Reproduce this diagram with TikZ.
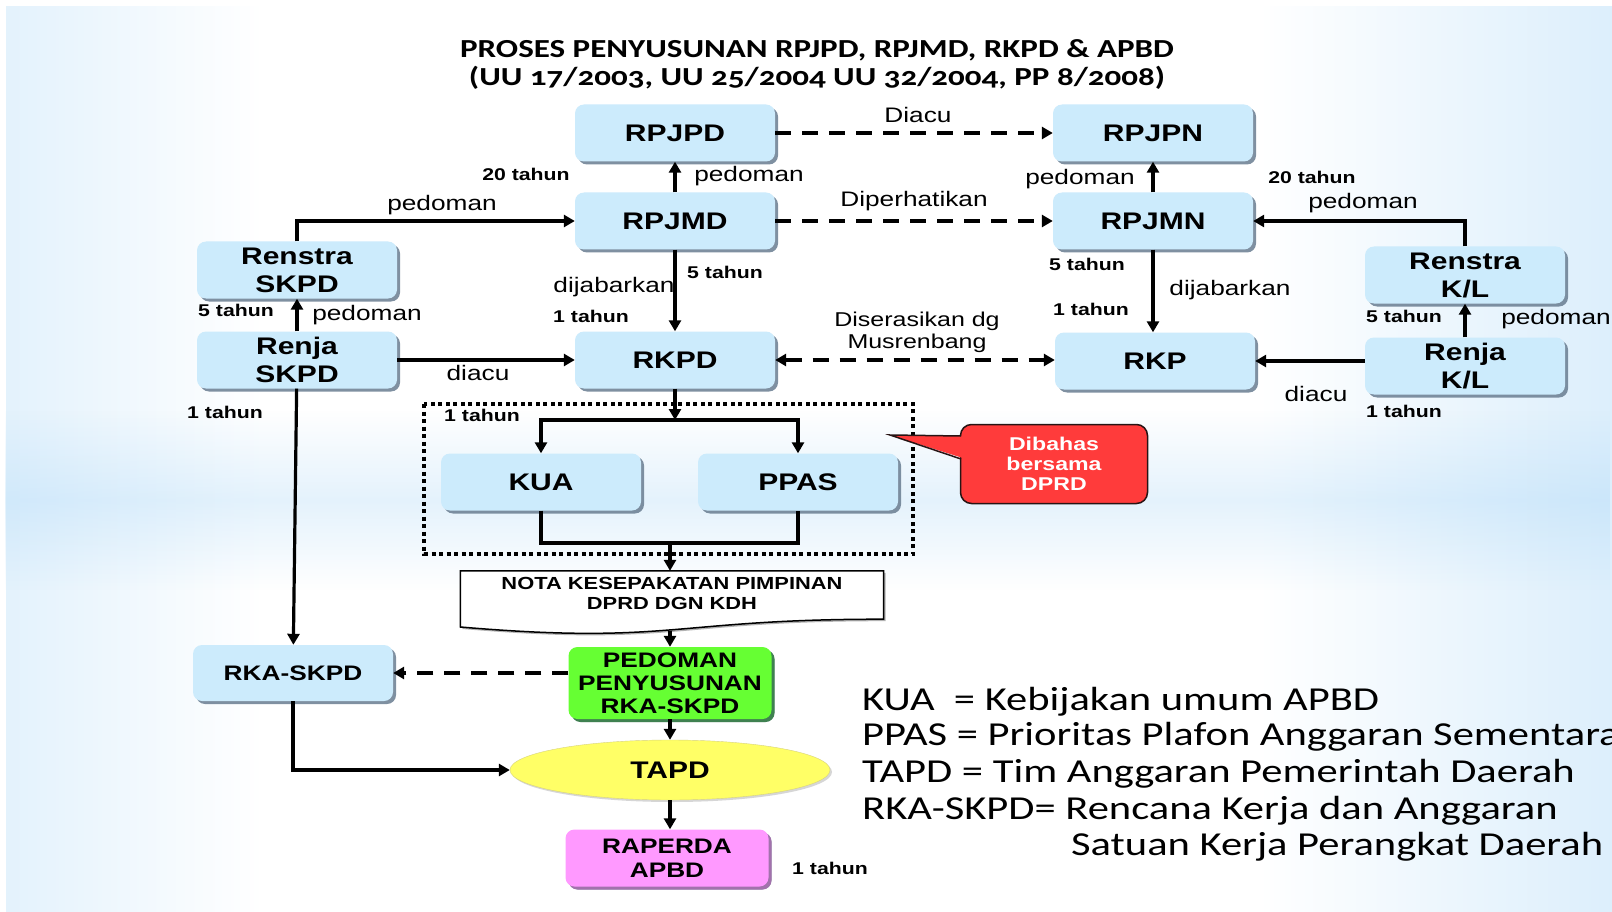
\documentclass[tikz,border=0pt]{standalone}
\usepackage{fontspec}
\usetikzlibrary{arrows.meta,shapes.geometric,shadows,fadings}

\newfontfamily\arialw[FakeStretch=1.25]{Liberation Sans}
\newfontfamily\calw[FakeStretch=1.27]{Carlito}
\newfontfamily\calwold[FakeStretch=1.27,Numbers=OldStyle]{Carlito}

\definecolor{bgblue}{RGB}{160,210,246}
\definecolor{boxblue}{RGB}{204,235,252}
\definecolor{shadowcol}{RGB}{105,125,145}
\definecolor{pedgreen}{RGB}{102,255,51}
\definecolor{rapink}{RGB}{255,153,255}
\definecolor{tapdyellow}{RGB}{255,255,102}
\definecolor{calred}{RGB}{255,59,59}
\definecolor{caledge}{RGB}{40,20,20}

\pgfdeclarehorizontalshading{bgside}{100bp}{color(0bp)=(bgblue); color(18bp)=(bgblue!55); color(33bp)=(white); color(64bp)=(white); color(82bp)=(bgblue!60); color(100bp)=(bgblue)}
\tikzfading[name=bandfade, top color=transparent!100, bottom color=transparent!100, middle color=transparent!72]

\begin{document}
\begin{tikzpicture}[x=1pt,y=-1pt,>={Triangle[length=11pt,width=12pt]},
                    node distance=88pt]

  \tikzstyle{box}=[rectangle,rounded corners=9pt,fill=boxblue,minimum width=200pt,
                   minimum height=57pt,align=center,inner sep=2pt,
                   font=\arialw\bfseries\fontsize{24}{28}\selectfont,
                   drop shadow={shadow xshift=3pt,shadow yshift=-3pt,fill=shadowcol,opacity=.85}]
  \tikzstyle{yr}=[font=\arialw\bfseries\fontsize{17}{20}\selectfont,inner sep=1pt]
  \tikzstyle{lbl}=[font=\arialw\fontsize{21}{23}\selectfont,inner sep=1pt,align=center]
  \tikzstyle{conn}=[->,line width=3.2pt]
  \tikzstyle{dashconn}=[conn,dash pattern=on 16pt off 11pt]
  \tikzstyle{legend}=[anchor=base west,inner sep=0pt,font=\calw\fontsize{33.5}{36}\selectfont]

  \useasboundingbox (0,0) rectangle (1612,912);
  \clip (0,0) rectangle (1612,912);

  % background
  \fill[white] (0,0) rectangle (1612,912);
  \shade[shading=bgside] (6,7) rectangle (1612,912);
  \fill[bgblue,path fading=bandfade] (6,410) rectangle (1612,590);

  \node[font=\calwold\bfseries\fontsize{26}{28}\selectfont,align=center] (title) at (817,64)
    {PROSES PENYUSUNAN RPJPD, RPJMD, RKPD \& APBD\\(UU 17/2003, UU 25/2004 UU 32/2004, PP 8/2008)};

  \node[box] (RPJMD) at (675,221) {RPJMD};
  \node[box] (RPJPD) [above of=RPJMD] {RPJPD};
  \node[box] (RKPD) [node distance=139pt,below of=RPJMD] {RKPD};
  \node[box] (RPJMN) [node distance=478pt,right of=RPJMD] {RPJMN};
  \node[box] (RPJPN) [above of=RPJMN] {RPJPN};
  \node[box] (RKP) at (1155,361) {RKP};
  \node[box] (RenjaSKPD) [node distance=378pt,left of=RKPD] {Renja\\SKPD};
  \node[box] (RenstraSKPD) [node distance=90pt,above of=RenjaSKPD] {Renstra\\SKPD};
  \node[box] (RenjaKL) at (1465,366) {Renja\\K/L};
  \node[box] (RenstraKL) [node distance=91pt,above of=RenjaKL] {Renstra\\K/L};
  \node[box] (KUA) at (541,482) {KUA};
  \node[box] (PPAS) [node distance=257pt,right of=KUA] {PPAS};
  \node[box,font=\arialw\bfseries\fontsize{21}{24}\selectfont,minimum height=56pt] (RKASKPD) at (293,673) {RKA-SKPD};
  \node[box,fill=pedgreen,minimum width=203pt,minimum height=72pt,
        font=\arialw\bfseries\fontsize{21}{23}\selectfont,
        drop shadow={shadow xshift=3pt,shadow yshift=-3pt,fill=green!45!black,opacity=.5}] (pedoman) at (670,683)
        {PEDOMAN\\PENYUSUNAN\\RKA-SKPD};
  \node[ellipse,fill=tapdyellow,draw=yellow!70!black!60,minimum width=320pt,minimum height=60pt,
        font=\arialw\bfseries\fontsize{24}{28}\selectfont,
        drop shadow={shadow xshift=2pt,shadow yshift=-2pt,fill=black!40,opacity=.4}] (TAPD) at (670,770) {TAPD};
  \node[box,fill=rapink,minimum width=203pt,font=\arialw\bfseries\fontsize{21}{24}\selectfont,
        drop shadow={shadow xshift=3pt,shadow yshift=-3pt,fill=violet!60,opacity=.7}] (RAPERDA) at (667,858) {RAPERDA\\APBD};

  % nota kesepakatan
  \node[minimum width=423pt,minimum height=48pt,inner sep=0pt] (nota) at (672,595) {};
  \draw[fill=white,line width=1.5pt,drop shadow={shadow xshift=2pt,shadow yshift=-2pt,fill=black!50,opacity=.6}]
    (nota.north west) -- (nota.north east) -- (nota.south east)
    .. controls (672,619) and (672,645) .. (nota.south west |- 0,627) -- cycle;
  \node[inner sep=0pt,align=center,font=\arialw\bfseries\fontsize{17.5}{20}\selectfont] (notatext) at (672,593)
        {NOTA KESEPAKATAN PIMPINAN\\DPRD DGN KDH};
  \coordinate (notabot) at (670,631);

  % dotted group
  \draw[line width=3.5pt,dash pattern=on 4pt off 3.5pt] (424,404) rectangle (913,554);

  % callout
  \node[fill=calred,draw=caledge,line width=1.5pt,rounded corners=11pt,minimum width=187pt,
        minimum height=79pt,align=center,text=white,inner sep=2pt,
        font=\arialw\bfseries\fontsize{18.5}{20}\selectfont] (dibahas) at (1054,464)
        {Dibahas\\bersama\\DPRD};
  \fill[calred] (890,435) -- (966,436) -- (966,459) -- cycle;
  \draw[caledge,line width=1.5pt,line join=miter] (961,436) -- (890,435) -- (961,459);

  % connectors
  \draw[dashconn] (RPJPD) -- (RPJPN);
  \draw[conn] (RPJMD) -- (RPJPD);
  \draw[dashconn] (RPJMD) -- (RPJMN);
  \draw[conn] (RPJMN) -- (RPJPN);
  \draw[conn] (RenstraSKPD.north) |- (RPJMD.west);
  \draw[conn] (RenjaSKPD) -- (RenstraSKPD);
  \draw[conn] (RenjaSKPD) -- (RKPD);
  \draw[conn] (RPJMD) -- (RKPD);
  \draw[dashconn,<->] (RKPD.east) -- (RKPD.east -| RKP.west);
  \draw[conn] (RPJMN.south) -- (RPJMN.south |- RKP.north);
  \draw[conn] (RenstraKL.north) |- (RPJMN.east);
  \draw[conn] (RenjaKL) -- (RenstraKL);
  \draw[conn] (RenjaKL.west |- RKP.east) -- (RKP.east);

  \coordinate (split) at (675,420);
  \draw[conn] (RKPD) -- (split);
  \draw[conn] (split) -| (KUA.north);
  \draw[conn] (split) -| (PPAS.north);
  \coordinate (join) at (670,543);
  \draw[line width=3.2pt] (KUA.south) |- (join) -| (PPAS.south);
  \draw[conn] (join) -- (join |- nota.north);
  \draw[conn] (notabot) -- (pedoman.north);
  \draw[dashconn] (pedoman.west |- RKASKPD) -- (RKASKPD);
  \draw[conn] (pedoman) -- (TAPD);
  \draw[conn] (TAPD) -- (TAPD |- RAPERDA.north);
  \draw[conn] (RenjaSKPD) -- (RKASKPD);
  \draw[conn] (RKASKPD.south) |- (TAPD.west);

  % labels
  \node[lbl] (lDiacu) at (918,115) {Diacu};
  \node[lbl] (lPed1) at (749,176) {pedoman};
  \node[yr] (t20a) at (526,174) {20 tahun};
  \node[lbl] (lPed2) at (442,205) {pedoman};
  \node[lbl] (lDiper) at (914,201) {Diperhatikan};
  \node[lbl] (lPed3) at (1080,179) {pedoman};
  \node[yr] (t20b) at (1312,177) {20 tahun};
  \node[lbl] (lPed4) at (1363,203) {pedoman};
  \node[yr] (t5a) at (725,272) {5 tahun};
  \node[lbl] (lJab1) at (614,287) {dijabarkan};
  \node[yr] (t1a) at (591,316) {1 tahun};
  \node[yr] (t5b) at (236,310) {5 tahun};
  \node[lbl] (lPed5) at (367,315) {pedoman};
  \node[lbl] (lDiacu2) at (478,373) {diacu};
  \node[yr] (t1b) at (225,412) {1 tahun};
  \node[lbl,font=\arialw\fontsize{20}{22}\selectfont] (lSeras) at (917,332) {Diserasikan dg\\Musrenbang};
  \node[yr] (t5c) at (1087,264) {5 tahun};
  \node[lbl] (lJab2) at (1230,290) {dijabarkan};
  \node[yr] (t1c) at (1091,309) {1 tahun};
  \node[yr] (t5d) at (1404,316) {5 tahun};
  \node[lbl] (lPed6) at (1556,319) {pedoman};
  \node[lbl] (lDiacu3) at (1316,394) {diacu};
  \node[yr] (t1d) at (1404,411) {1 tahun};
  \node[yr] (t1e) at (482,415) {1 tahun};
  \node[yr] (t1f) at (830,868) {1 tahun};

  % legend
  \node[legend] (lgKUA) at (862,710) {KUA\ \ = Kebijakan umum APBD};
  \node[legend] (lgPPAS) at (862,745) {PPAS = Prioritas Plafon Anggaran Sementara};
  \node[legend] (lgTAPD) at (862,782) {TAPD = Tim Anggaran Pemerintah Daerah};
  \node[legend] (lgRKA) at (862,819) {RKA-SKPD= Rencana Kerja dan Anggaran};
  \node[legend] (lgRKAb) at (1071,855) {Satuan Kerja Perangkat Daerah};
\end{tikzpicture}
\end{document}
